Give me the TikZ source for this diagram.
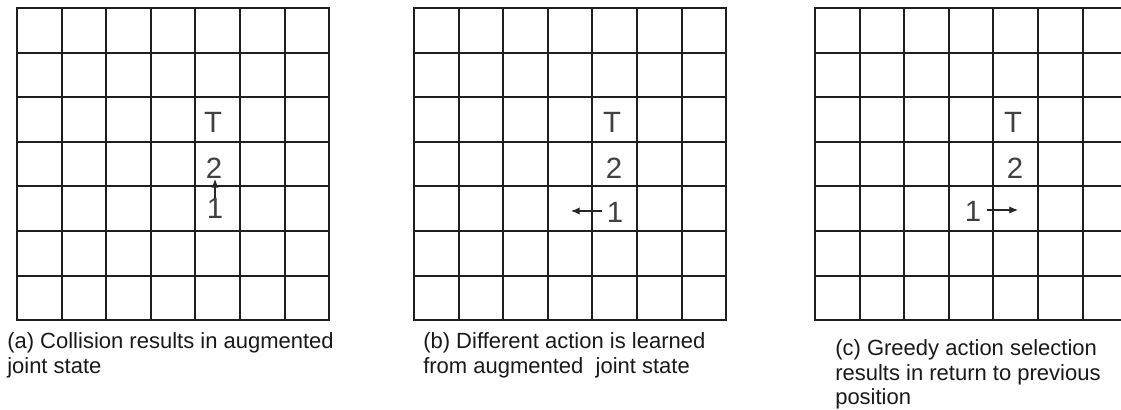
\documentclass[tikz,border=0pt]{standalone}
\usepackage{fontspec}
\setmainfont{Liberation Sans}
\usetikzlibrary{arrows.meta}
\tikzset{
  gridline/.style={line width=1.5pt, draw=black!88, line cap=rect},
  celllabel/.style={inner sep=0pt, text=black!75, font=\fontsize{22}{26}\selectfont},
  caption/.style={inner sep=0pt, anchor=base west, text=black!90, font=\fontsize{16.5}{20}\selectfont},
  move/.style={line width=0.8pt, draw=black!85, -{Latex[length=6.5pt,width=5.5pt]}}
}
\begin{document}
\begin{tikzpicture}[x=0.75pt,y=-0.75pt]
\useasboundingbox (0,0) rectangle (1121,410);
% grid (a)
\foreach \i in {0,...,7} {
  \draw[gridline] (17+\i*44.6,8) -- (17+\i*44.6,320.2);
  \draw[gridline] (17,8+\i*44.6) -- (329.2,8+\i*44.6);
}
% grid (b)
\foreach \i in {0,...,7} {
  \draw[gridline] (414+\i*44.6,8) -- (414+\i*44.6,320.2);
  \draw[gridline] (414,8+\i*44.6) -- (726.2,8+\i*44.6);
}
% grid (c), cut at the right edge
\foreach \i in {0,...,6} {
  \draw[gridline] (815+\i*44.6,8) -- (815+\i*44.6,320.2);
}
\foreach \i in {0,...,7} {
  \draw[gridline] (815,8+\i*44.6) -- (1121,8+\i*44.6);
}
% labels (a)
\node[celllabel] (aT) at (213,122) {T};
\node[celllabel] (a2) at (214,168) {2};
\node[celllabel] (a1) at (215,208) {1};
\coordinate (aS) at (215,198);
\coordinate (aE) at (215,179);
\draw[move] (aS) -- (aE);
% labels (b)
\node[celllabel] (bT) at (612,122) {T};
\node[celllabel] (b2) at (614,168) {2};
\node[celllabel] (b1) at (615,212) {1};
\coordinate (bS) at (602,211);
\coordinate (bE) at (571,211);
\draw[move] (bS) -- (bE);
% labels (c)
\node[celllabel] (cT) at (1013,122) {T};
\node[celllabel] (c2) at (1015,168) {2};
\node[celllabel] (c1) at (973,211) {1};
\coordinate (cS) at (987,210);
\coordinate (cE) at (1018,210);
\draw[move] (cS) -- (cE);
% captions
\node[caption] (ca1) at (7,348) {(a) Collision results in augmented};
\node[caption] (ca2) at (7,373) {joint state};
\node[caption] (cb1) at (423,348) {(b) Different action is learned};
\node[caption] (cb2) at (423,373) {from augmented\ \ joint state};
\node[caption] (cc1) at (835,355) {(c) Greedy action selection};
\node[caption] (cc2) at (835,380) {results in return to previous};
\node[caption] (cc3) at (835,404) {position};
\end{tikzpicture}
\end{document}
